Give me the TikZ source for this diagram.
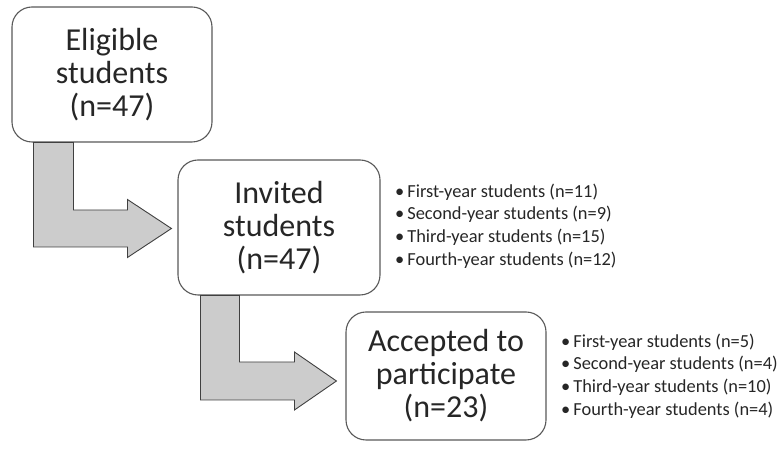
\documentclass[tikz,border=0pt]{standalone}
\usepackage{fontspec}
\setmainfont{Carlito}
\usetikzlibrary{calc,positioning}

\definecolor{boxline}{HTML}{595959}
\definecolor{arrfill}{HTML}{CCCCCC}
\definecolor{arrline}{HTML}{404040}
\definecolor{txt}{HTML}{262626}

\begin{document}
\begin{tikzpicture}[
  x=1pt, y=1pt,
  stagebox/.style={draw=boxline, line width=1.1pt, rounded corners=20pt, align=center, fill=white,
    text=txt, font=\fontsize{32}{33}\selectfont, minimum width=200pt, minimum height=135pt, inner sep=0pt},
  sublist/.style={align=left, anchor=west, text=txt, font=\fontsize{18.4}{22.7}\selectfont, inner sep=0pt},
  blockarr/.style={draw=arrline, line width=0.9pt, fill=arrfill, line join=miter}
]
\useasboundingbox (0,0) rectangle (782,449);
\node[stagebox] (elig) at (112,374.5) {Eligible\\students\\(n=47)};
\node[stagebox, minimum width=202pt] (inv) at (279,221.5) {Invited\\students\\(n=47)};
\node[stagebox, minimum height=128pt] (acc) at (446,73) {Accepted to\\participate\\(n=23)};
\node[sublist] (invlist) at (395,223) {\textbullet\hspace{3pt}First-year students (n=11)\\
  \textbullet\hspace{3pt}Second-year students (n=9)\\
  \textbullet\hspace{3pt}Third-year students (n=15)\\
  \textbullet\hspace{3pt}Fourth-year students (n=12)};
\node[sublist] (acclist) at (561,73) {\textbullet\hspace{3pt}First-year students (n=5)\\
  \textbullet\hspace{3pt}Second-year students (n=4)\\
  \textbullet\hspace{3pt}Third-year students (n=10)\\
  \textbullet\hspace{3pt}Fourth-year students (n=4)};
% bent block arrows
\draw[blockarr] let \p1=(elig.south west), \p2=(inv.west) in
  (\x1+22pt,\y1) -- (\x1+22pt,\y2-19.5pt) -- (\x2-50pt,\y2-19.5pt) -- (\x2-50pt,\y2-30pt)
  -- (\x2-6pt,\y2-1pt) -- (\x2-50pt,\y2+28pt) -- (\x2-50pt,\y2+17.5pt) -- (\x1+62pt,\y2+17.5pt)
  -- (\x1+62pt,\y1) -- cycle;
\draw[blockarr] let \p1=(inv.south west), \p2=(acc.west) in
  (\x1+23pt,\y1) -- (\x1+23pt,\y2-24pt) -- (\x2-51pt,\y2-24pt) -- (\x2-51pt,\y2-34pt)
  -- (\x2-9pt,\y2-5pt) -- (\x2-51pt,\y2+24pt) -- (\x2-51pt,\y2+14pt) -- (\x1+62pt,\y2+14pt)
  -- (\x1+62pt,\y1) -- cycle;
\end{tikzpicture}
\end{document}
